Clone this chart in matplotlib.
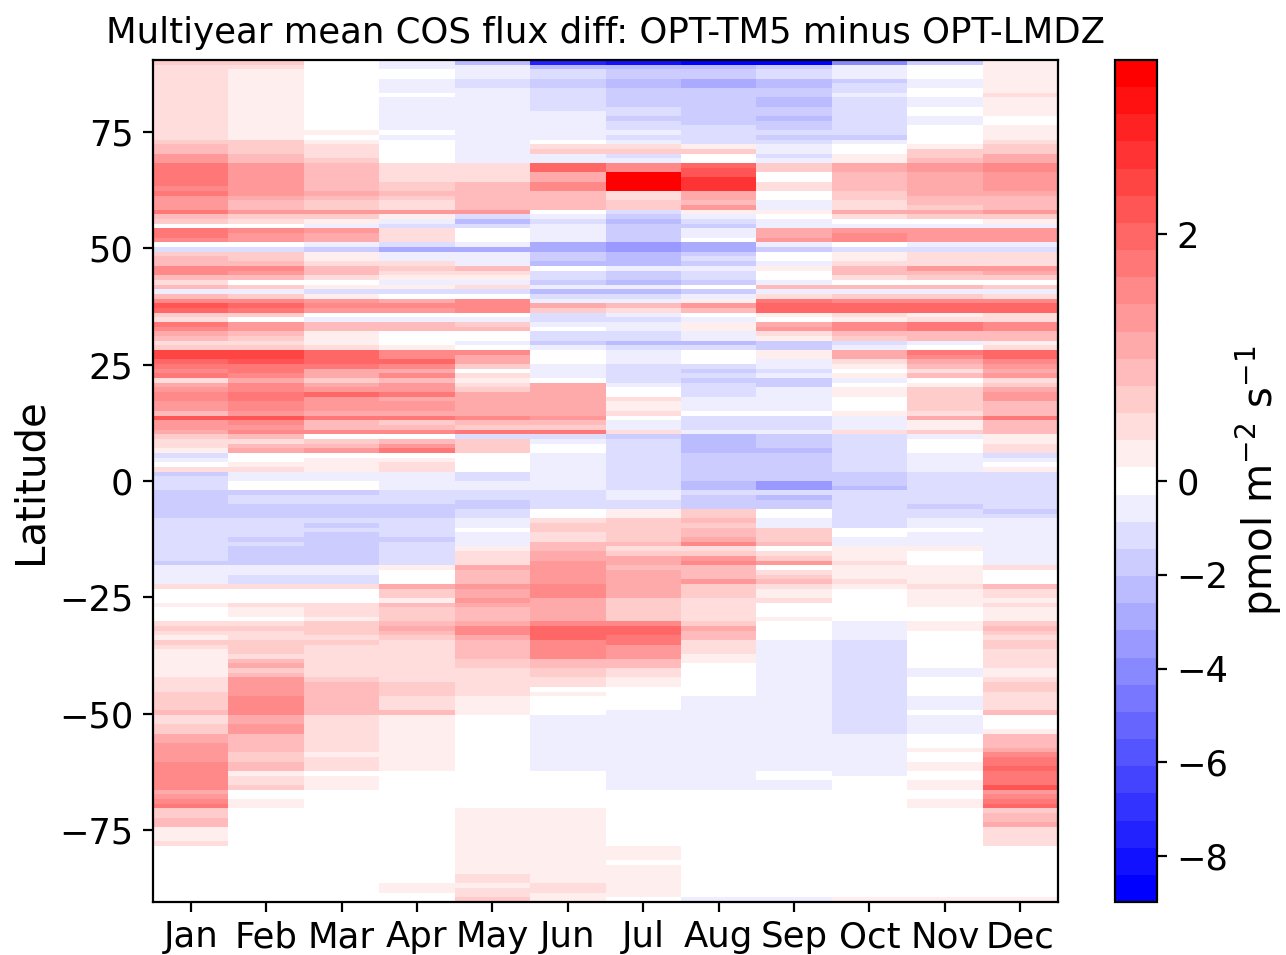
import numpy as np
import matplotlib
matplotlib.use("Agg")
import matplotlib.pyplot as plt
from matplotlib.colors import TwoSlopeNorm

MONTHS = ['Jan','Feb','Mar','Apr','May','Jun','Jul','Aug','Sep','Oct','Nov','Dec']
TITLE = 'Multiyear mean COS flux diff: OPT-TM5 minus OPT-LMDZ'
VMIN, VMAX = -8.98, 3.41
N_LEVELS = 31

# Each month: (colour class, southernmost band of that class,
# counted from the North Pole). Classes run -15..15 and map to pmol m-2 s-1 below.
JAN = [(3,0),(2,16),(3,17),(4,19),(6,21),(8,26),(7,27),(8,28),(6,31),(8,32),(4,33),(3,34),(0,35),(8,37),(7,38),(0,39),(-2,40),(3,41),(4,43),(7,45),(4,46),(2,47),(4,48),(-1,49),(4,50),(7,51),(10,52),(9,53),(3,54),(2,55),(8,56),(7,57),(5,58),(4,59),(2,60),(3,61),(11,63),(9,64),(8,65),(7,66),(8,67),(2,68),(5,69),(6,70),(7,72),(6,74),(4,75),(10,76),(6,78),(5,79),(3,80),(2,82),(1,83),(-2,84),(-1,85),(0,86),(2,87),(-3,88),(-2,91),(-3,97),(-2,106),(-3,107),(-1,111),(2,112),(0,115),(1,116),(0,119),(2,120),(3,121),(2,122),(1,123),(3,124),(2,125),(1,131),(2,134),(3,138),(4,139),(2,141),(3,143),(5,145),(6,149),(7,155),(5,156),(6,157),(7,158),(8,159),(3,161),(4,163),(1,166),(2,167),(0,179)]
FEB = [(3,0),(2,1),(1,16),(3,19),(4,21),(6,28),(5,29),(4,31),(6,32),(3,33),(2,34),(0,35),(7,36),(6,38),(0,39),(-2,40),(3,42),(4,43),(7,44),(6,45),(4,46),(0,47),(3,48),(-1,49),(3,50),(7,51),(9,52),(8,53),(3,54),(0,55),(6,57),(4,58),(3,59),(2,60),(3,61),(11,63),(10,64),(8,66),(7,67),(5,68),(7,70),(8,72),(7,74),(6,75),(10,76),(7,77),(6,78),(7,79),(4,80),(2,81),(4,82),(5,83),(0,85),(1,86),(2,87),(-1,89),(0,91),(-3,92),(-2,94),(-3,97),(-2,101),(-3,102),(-2,103),(-3,107),(-1,109),(-2,111),(2,112),(0,115),(2,116),(1,118),(0,119),(2,120),(3,121),(2,123),(3,126),(2,127),(4,128),(5,129),(3,130),(4,131),(6,135),(7,139),(5,141),(6,143),(4,147),(3,149),(4,151),(1,152),(2,154),(3,155),(0,157),(1,159),(0,179)]
MAR = [(0,14),(1,15),(0,16),(1,17),(2,20),(3,21),(4,27),(5,28),(4,29),(3,31),(6,32),(3,33),(1,34),(-1,35),(6,36),(5,38),(-1,39),(-3,40),(1,42),(2,43),(4,45),(2,46),(0,47),(1,48),(-2,49),(1,50),(6,51),(7,52),(6,53),(0,54),(-1,55),(4,57),(1,60),(2,61),(9,64),(8,65),(5,67),(3,68),(5,69),(6,70),(9,71),(6,74),(5,75),(8,76),(4,78),(7,79),(0,80),(3,81),(4,82),(6,83),(0,84),(1,87),(-1,89),(0,91),(-3,92),(-2,94),(-3,97),(-2,98),(-3,99),(-2,100),(-3,107),(-1,109),(-2,111),(2,112),(0,115),(2,118),(1,119),(3,122),(2,123),(3,124),(2,131),(3,132),(4,139),(2,147),(1,148),(2,151),(0,152),(1,155),(0,179)]
APR = [(-1,1),(0,3),(-1,6),(0,7),(-1,14),(0,15),(-1,16),(0,21),(2,25),(3,27),(4,28),(3,29),(2,31),(6,32),(1,33),(-1,34),(-2,35),(2,38),(-2,39),(-5,40),(-1,42),(2,43),(3,44),(2,45),(1,46),(-1,47),(1,48),(-2,49),(0,50),(5,51),(7,52),(6,53),(0,54),(-1,55),(4,57),(0,60),(1,61),(7,63),(9,64),(7,65),(5,66),(7,67),(4,68),(6,70),(8,71),(5,72),(6,74),(5,75),(8,76),(3,77),(4,78),(7,79),(0,80),(4,81),(6,82),(8,83),(0,84),(1,85),(2,87),(-1,91),(-2,94),(-3,97),(-2,101),(-3,102),(-2,107),(1,108),(0,111),(5,112),(3,114),(1,115),(4,116),(3,119),(4,120),(5,121),(4,122),(3,123),(2,132),(3,135),(2,138),(4,139),(1,151),(0,175),(1,177),(0,179)]
MAY = [(-4,0),(-1,3),(-2,5),(-1,21),(2,25),(4,31),(6,32),(-2,33),(-4,34),(-2,35),(0,38),(-1,39),(-5,40),(-1,43),(4,44),(2,45),(1,46),(-1,47),(2,48),(-2,49),(0,50),(7,53),(0,54),(-1,55),(3,56),(4,57),(0,59),(-1,60),(0,61),(7,62),(5,64),(3,65),(0,66),(2,67),(1,68),(2,69),(3,70),(5,75),(7,76),(4,77),(3,78),(8,79),(-2,80),(3,83),(0,87),(-2,89),(-1,91),(-2,93),(-3,95),(-2,97),(-1,99),(0,100),(-1,103),(1,104),(2,107),(5,108),(4,111),(6,112),(5,114),(6,115),(5,116),(4,119),(5,120),(7,122),(5,123),(4,127),(3,129),(2,135),(1,139),(0,159),(1,173),(2,175),(1,176),(2,178),(3,179)]
JUN = [(-13,0),(-4,1),(-2,3),(-3,5),(-2,10),(-1,16),(0,17),(2,18),(3,19),(-1,21),(9,23),(5,25),(7,27),(4,31),(0,32),(-1,33),(-2,34),(-1,38),(-5,40),(-3,42),(-4,43),(0,44),(-2,46),(-3,47),(-1,48),(-4,49),(-2,50),(-1,51),(5,52),(3,53),(-2,55),(-1,56),(0,57),(-2,59),(-3,60),(-1,61),(0,64),(-1,67),(0,68),(5,75),(6,76),(4,77),(3,78),(8,79),(-2,80),(-1,81),(0,83),(-1,91),(-2,95),(0,97),(2,98),(3,100),(2,102),(4,104),(5,106),(6,111),(7,114),(5,119),(7,120),(9,123),(7,127),(4,129),(3,131),(2,133),(0,134),(1,135),(0,139),(-1,151),(0,159),(1,175),(2,177),(1,179)]
JUL = [(-14,0),(-4,1),(-3,3),(-4,5),(-3,9),(-2,11),(-3,12),(-2,14),(-1,15),(-2,16),(-1,17),(2,18),(3,19),(-2,20),(-1,21),(7,23),(15,27),(2,29),(3,31),(-2,32),(-3,33),(-4,34),(-3,38),(-6,40),(-4,43),(-1,44),(-3,46),(-4,47),(-1,48),(-4,49),(-2,50),(-1,51),(4,52),(2,53),(-1,54),(-2,55),(-1,57),(-2,59),(-4,60),(-2,61),(-1,64),(-2,68),(-1,69),(0,71),(2,72),(1,74),(2,75),(0,76),(-1,78),(2,79),(-3,80),(-2,91),(-1,93),(-2,95),(1,97),(3,102),(4,103),(2,104),(3,105),(5,107),(4,108),(5,114),(3,119),(7,120),(9,122),(8,124),(6,127),(4,129),(2,131),(1,133),(0,138),(-1,155),(0,167),(1,170),(0,171),(1,178),(0,179)]
AUG = [(-15,0),(-4,1),(-3,3),(-5,5),(-3,13),(-2,17),(1,18),(3,19),(0,21),(9,22),(10,24),(12,27),(5,29),(4,30),(6,31),(1,32),(-1,33),(-2,34),(-3,35),(-1,37),(0,38),(-5,40),(-3,41),(-2,42),(-3,43),(-1,44),(-2,46),(-3,47),(0,48),(-3,49),(-1,50),(1,51),(6,52),(4,53),(0,54),(-1,55),(1,57),(-1,59),(-4,60),(-2,61),(0,64),(-2,65),(-3,66),(-2,67),(-3,68),(-2,71),(-1,74),(0,75),(-2,78),(-1,79),(-4,83),(-3,89),(-4,91),(-2,92),(-3,95),(3,97),(4,98),(3,99),(4,101),(5,102),(7,103),(2,104),(3,105),(6,106),(7,107),(4,110),(6,111),(3,114),(2,119),(3,120),(5,121),(4,123),(2,126),(1,128),(0,135),(-1,155),(0,178),(-1,179)]
SEP = [(-15,0),(-3,1),(-2,3),(-4,5),(-3,7),(-4,9),(-3,11),(-4,12),(-3,14),(-2,15),(-3,16),(-2,17),(-1,19),(-2,20),(-1,21),(3,23),(0,25),(2,27),(0,29),(-1,31),(1,32),(0,33),(-1,35),(5,37),(6,38),(-1,39),(-3,40),(0,42),(-1,43),(1,44),(0,46),(-1,47),(4,48),(-1,49),(2,50),(8,51),(9,53),(1,54),(0,55),(5,56),(6,57),(2,58),(1,59),(-3,61),(1,63),(-1,65),(-2,66),(-1,67),(-3,69),(-1,74),(0,75),(-2,78),(-1,79),(-3,82),(-4,83),(-3,89),(-6,91),(-2,92),(-4,93),(-3,95),(0,97),(-1,99),(3,102),(4,103),(0,104),(2,105),(3,106),(6,107),(0,108),(2,109),(3,110),(4,111),(2,112),(1,114),(2,115),(0,118),(1,119),(0,123),(-1,151),(0,153),(-1,155),(0,178),(-1,179)]
OCT = [(-7,0),(-1,3),(-3,4),(-2,6),(-1,7),(-2,15),(-3,16),(-1,17),(0,19),(1,21),(5,23),(4,27),(3,29),(2,31),(5,32),(2,33),(0,34),(-1,35),(6,36),(7,38),(0,39),(-2,40),(1,42),(2,43),(4,45),(2,46),(0,47),(4,48),(-1,49),(3,50),(7,51),(9,53),(2,54),(1,55),(7,57),(4,58),(3,59),(-2,60),(-1,61),(5,63),(2,64),(1,65),(0,66),(1,67),(-1,68),(0,69),(1,71),(0,74),(1,75),(-1,78),(2,79),(-2,87),(-3,90),(-4,91),(-2,99),(0,101),(-1,103),(1,106),(2,107),(1,110),(2,111),(1,112),(0,119),(-1,123),(-2,143),(-1,152),(0,178),(1,179)]
NOV = [(-3,0),(0,3),(-1,5),(0,7),(-1,9),(0,11),(-1,13),(0,17),(1,18),(3,20),(4,21),(6,23),(5,28),(4,30),(3,31),(5,32),(3,33),(0,34),(-1,35),(6,38),(-1,39),(-2,40),(2,43),(6,44),(4,45),(3,46),(0,47),(4,48),(-1,49),(3,50),(7,51),(9,53),(1,54),(2,55),(8,57),(4,59),(-1,60),(0,61),(8,62),(7,63),(5,64),(4,65),(2,66),(4,67),(0,68),(1,69),(3,74),(2,75),(5,76),(1,78),(3,79),(-1,80),(0,83),(-1,87),(-2,94),(-3,95),(-2,97),(-1,99),(0,100),(-1,103),(1,104),(0,107),(1,111),(2,112),(1,116),(0,119),(1,121),(0,129),(-1,131),(0,135),(-1,138),(0,139),(-1,143),(0,146),(1,147),(0,149),(1,151),(0,153),(1,155),(0,157),(1,159),(0,178),(1,179)]
DEC = [(1,6),(2,7),(1,11),(0,13),(1,16),(2,17),(3,19),(5,21),(7,23),(6,27),(5,28),(4,31),(6,32),(3,33),(1,34),(-1,35),(6,38),(-1,39),(-2,40),(2,43),(6,44),(5,45),(3,46),(0,47),(3,48),(-1,49),(2,50),(7,51),(9,53),(2,55),(7,57),(4,59),(1,60),(2,61),(9,63),(7,64),(6,65),(5,66),(6,67),(2,68),(3,69),(5,70),(6,72),(4,75),(8,76),(4,79),(1,81),(2,83),(-2,84),(-1,85),(0,86),(1,87),(-2,95),(-3,96),(-2,97),(-1,107),(2,108),(0,111),(4,112),(2,114),(1,115),(2,116),(1,119),(3,120),(4,121),(3,122),(2,123),(3,125),(2,129),(1,131),(2,132),(3,134),(2,138),(4,139),(0,142),(1,143),(4,146),(5,147),(7,148),(8,150),(9,151),(8,154),(10,155),(6,156),(7,157),(8,158),(9,159),(3,160),(4,162),(5,163),(2,167),(0,178),(1,179)]

ALL_MONTHS = [JAN, FEB, MAR, APR, MAY, JUN, JUL, AUG, SEP, OCT, NOV, DEC]


def expand(runs):
    col = np.zeros(180)
    start = 0
    for level, last in runs:
        col[start:last + 1] = level
        start = last + 1
    return col


levels = np.column_stack([expand(r) for r in ALL_MONTHS])
flux = np.where(levels >= 0, levels / 15 * VMAX, levels / 15 * -VMIN)

lat_edges = np.linspace(90.5, -90.5, 181)
month_edges = np.arange(13) - 0.5

fig = plt.figure(figsize=(6.43, 4.775), dpi=200)
ax = fig.add_axes([153 / 1286, 1 - 902 / 955, 905 / 1286, 842 / 955])
cax = fig.add_axes([1115 / 1286, 1 - 902 / 955, 42 / 1286, 842 / 955])

norm = TwoSlopeNorm(vmin=VMIN, vcenter=0, vmax=VMAX)
mesh = ax.pcolormesh(month_edges, lat_edges, flux, cmap=plt.get_cmap('bwr', N_LEVELS), norm=norm)
ax.set_xticks(np.arange(12))
ax.set_xticklabels(MONTHS, fontsize=12.8)
ax.tick_params(axis='x', pad=3)
ax.set_yticks([-75, -50, -25, 0, 25, 50, 75])
ax.tick_params(axis='y', labelsize=12.7)
ax.set_ylim(-90.5, 90.5)
ax.set_ylabel('Latitude', fontsize=14.5, labelpad=3)
ax.set_title(TITLE, fontsize=12.8, pad=6)

cb = fig.colorbar(mesh, cax=cax)
cb.set_ticks([-8, -6, -4, -2, 0, 2])
cb.ax.tick_params(labelsize=12.7)
cb.ax.minorticks_off()
cb.set_label('pmol m$^{-2}$ s$^{-1}$', fontsize=14.5, labelpad=2)

fig.savefig('out.png', dpi=200)
